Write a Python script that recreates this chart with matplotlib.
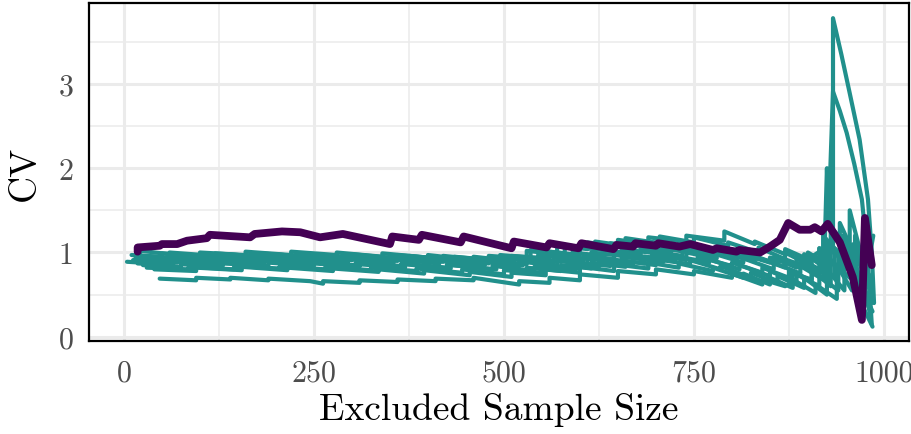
import matplotlib
matplotlib.use("Agg")
import matplotlib.pyplot as plt
from matplotlib.ticker import FixedLocator

plt.rcParams['font.family'] = ['cmr10', 'DejaVu Serif']
plt.rcParams['axes.formatter.use_mathtext'] = True
plt.rcParams['mathtext.fontset'] = 'cm'

# ---------------- data ----------------
x_ticks = [0, 250, 500, 750, 1000]
x_tick_labels = ["0", "250", "500", "750", "1000"]
y_ticks = [0, 1, 2, 3]
y_tick_labels = ["0", "1", "2", "3"]

purple_x = [18, 18, 47, 50, 70, 83, 109, 113, 166, 172, 208, 232, 258, 288, 350, 353,
            388, 392, 443, 447, 510, 513, 556, 560, 598, 602, 644, 648, 670, 673, 700,
            703, 731, 745, 775, 780, 806, 810, 837, 850, 863, 874, 889, 903, 909, 918,
            926, 942, 959, 971, 975, 984]
purple_y = [1.01, 1.06, 1.08, 1.10, 1.10, 1.14, 1.17, 1.21, 1.18, 1.22, 1.25, 1.24, 1.18,
            1.22, 1.10, 1.19, 1.15, 1.21, 1.12, 1.19, 1.05, 1.13, 1.06, 1.11, 1.05, 1.11,
            1.04, 1.09, 1.07, 1.11, 1.08, 1.11, 1.07, 1.10, 1.03, 1.05, 1.01, 1.03, 1.00,
            1.07, 1.15, 1.35, 1.27, 1.27, 1.30, 1.25, 1.34, 1.12, 0.71, 0.20, 1.41, 0.85]

t1_x = [47, 95, 95, 140, 140, 190, 190, 245, 262, 262, 310, 310, 360, 360, 410, 410, 460,
        460, 520, 520, 560, 560, 600, 600, 650, 650, 700, 700, 750, 750, 800, 800, 840,
        840, 870, 880, 880, 905, 905, 930, 930, 955, 955, 975, 985]
t1_y = [0.69, 0.67, 0.70, 0.68, 0.70, 0.67, 0.69, 0.66, 0.63, 0.66, 0.64, 0.67, 0.65, 0.68,
        0.66, 0.69, 0.67, 0.70, 0.62, 0.66, 0.64, 0.70, 0.67, 0.74, 0.70, 0.78, 0.74, 0.80,
        0.74, 0.78, 0.70, 0.75, 0.62, 0.68, 0.60, 0.66, 0.75, 0.68, 0.80, 0.60, 0.90, 0.70,
        1.10, 0.50, 0.30]

t2_x = [4, 40, 40, 90, 90, 140, 140, 200, 200, 260, 260, 320, 320, 380, 380, 440, 440, 500,
        500, 545, 545, 590, 590, 630, 630, 680, 680, 720, 720, 770, 770, 810, 810, 850, 850,
        890, 890, 920, 920, 950, 950, 972, 984]
t2_y = [0.89, 0.87, 0.91, 0.88, 0.92, 0.89, 0.93, 0.89, 0.94, 0.90, 0.95, 0.91, 0.95, 0.90,
        0.94, 0.89, 0.93, 0.88, 0.93, 0.90, 0.97, 0.93, 1.00, 0.96, 1.03, 0.98, 1.05, 1.00,
        1.08, 1.00, 1.04, 0.95, 0.99, 0.88, 0.94, 0.82, 0.90, 0.76, 1.20, 0.90, 1.05, 0.60,
        0.40]

t3_x = [10, 50, 50, 100, 100, 160, 160, 220, 220, 280, 280, 340, 340, 400, 400, 460, 460,
        510, 510, 560, 560, 600, 600, 640, 640, 690, 690, 730, 730, 780, 780, 820, 820, 860,
        860, 895, 895, 915, 915, 933, 933, 944, 955, 968, 979, 984, 987]
t3_y = [0.97, 0.95, 0.99, 0.96, 1.00, 0.97, 1.01, 0.97, 1.01, 0.97, 1.00, 0.95, 0.99, 0.94,
        0.97, 0.91, 0.95, 0.90, 0.96, 0.93, 1.01, 0.97, 1.06, 1.02, 1.11, 1.06, 1.13, 1.07,
        1.12, 1.01, 1.05, 0.94, 0.99, 0.86, 0.95, 0.84, 0.98, 0.90, 1.05, 1.00, 3.78, 3.35,
        2.89, 2.34, 1.63, 1.00, 0.40]

t4_x = [15, 60, 60, 110, 110, 170, 170, 230, 230, 290, 290, 350, 350, 410, 410, 470, 470,
        530, 530, 575, 575, 615, 615, 655, 655, 700, 700, 745, 745, 790, 790, 830, 830, 870,
        870, 905, 905, 922, 925, 927, 933, 942, 951, 961, 971, 978, 984]
t4_y = [0.93, 0.91, 0.95, 0.92, 0.96, 0.93, 0.97, 0.93, 0.96, 0.92, 0.96, 0.92, 0.95, 0.90,
        0.93, 0.88, 0.92, 0.86, 0.92, 0.89, 0.96, 0.92, 1.00, 0.96, 1.04, 0.99, 1.06, 1.00,
        1.06, 0.96, 1.00, 0.90, 0.95, 0.82, 0.90, 0.80, 0.95, 1.05, 2.00, 1.35, 2.91, 2.68,
        2.42, 2.05, 1.63, 1.00, 0.15]

t5_x = [20, 22, 60, 60, 120, 120, 180, 180, 240, 240, 300, 300, 360, 360, 420, 420, 480,
        480, 530, 530, 570, 570, 610, 610, 650, 650, 690, 690, 740, 740, 790, 790, 830, 830,
        870, 870, 900, 900, 930, 930, 955, 955, 975, 985]
t5_y = [0.95, 1.02, 0.98, 1.00, 0.96, 0.99, 0.95, 0.99, 0.95, 0.98, 0.94, 0.98, 0.93, 0.97,
        0.92, 0.96, 0.91, 0.96, 0.93, 1.02, 0.98, 1.08, 1.04, 1.12, 1.07, 1.15, 1.10, 1.18,
        1.13, 1.20, 1.14, 1.25, 1.10, 1.13, 0.98, 1.04, 0.92, 1.00, 0.84, 1.30, 1.05, 1.50,
        0.80, 0.60]

t6_x = [25, 75, 75, 130, 130, 190, 190, 250, 250, 310, 310, 370, 370, 430, 430, 490, 490,
        540, 540, 585, 585, 625, 625, 670, 670, 710, 710, 755, 755, 800, 800, 840, 840, 875,
        875, 905, 905, 935, 935, 960, 960, 983]
t6_y = [0.85, 0.83, 0.86, 0.84, 0.87, 0.84, 0.88, 0.84, 0.87, 0.83, 0.86, 0.82, 0.86, 0.81,
        0.85, 0.80, 0.84, 0.78, 0.83, 0.80, 0.87, 0.83, 0.90, 0.86, 0.94, 0.89, 0.97, 0.90,
        0.95, 0.84, 0.88, 0.76, 0.82, 0.70, 0.80, 0.66, 0.85, 0.70, 1.05, 0.82, 1.10, 0.55]

t7_x = [30, 85, 85, 145, 145, 205, 205, 265, 265, 325, 325, 385, 385, 445, 445, 500, 500,
        550, 550, 595, 595, 640, 640, 685, 685, 725, 725, 770, 770, 810, 810, 850, 850, 885,
        885, 915, 915, 940, 940, 962, 962, 982]
t7_y = [0.82, 0.80, 0.83, 0.80, 0.84, 0.81, 0.84, 0.80, 0.83, 0.79, 0.82, 0.78, 0.81, 0.76,
        0.80, 0.74, 0.79, 0.76, 0.84, 0.80, 0.88, 0.84, 0.92, 0.87, 0.95, 0.90, 0.96, 0.88,
        0.92, 0.80, 0.85, 0.72, 0.78, 0.65, 0.74, 0.60, 0.72, 0.55, 0.95, 0.70, 1.20, 0.25]

t8_x = [12, 55, 55, 115, 115, 175, 175, 235, 235, 295, 295, 355, 355, 415, 415, 475, 475,
        520, 520, 565, 565, 605, 605, 645, 645, 695, 695, 735, 735, 775, 775, 815, 815, 855,
        855, 890, 890, 920, 920, 945, 945, 965, 965, 985]
t8_y = [0.91, 0.89, 0.93, 0.90, 0.94, 0.90, 0.93, 0.89, 0.93, 0.89, 0.92, 0.88, 0.92, 0.87,
        0.90, 0.85, 0.89, 0.84, 0.90, 0.86, 0.94, 0.90, 0.97, 0.92, 0.99, 0.94, 1.01, 0.96,
        1.03, 0.95, 0.99, 0.88, 0.93, 0.80, 0.88, 0.75, 0.84, 0.68, 1.00, 0.78, 1.20, 0.85,
        1.00, 0.45]

t9_x = [35, 80, 80, 135, 135, 195, 195, 255, 255, 315, 315, 375, 375, 435, 435, 495, 495,
        535, 535, 580, 580, 620, 620, 660, 660, 705, 705, 750, 750, 795, 795, 835, 835, 870,
        870, 900, 900, 925, 925, 950, 950, 972, 986]
t9_y = [0.95, 0.93, 0.97, 0.94, 0.98, 0.94, 0.98, 0.94, 0.97, 0.93, 0.96, 0.92, 0.96, 0.91,
        0.95, 0.90, 0.97, 0.94, 1.03, 0.99, 1.09, 1.04, 1.13, 1.08, 1.17, 1.11, 1.19, 1.12,
        1.18, 1.08, 1.12, 1.00, 1.06, 0.92, 1.00, 0.86, 0.96, 0.80, 1.10, 0.85, 1.00, 0.50,
        1.20]

t10_x = [18, 65, 65, 125, 125, 185, 185, 245, 245, 305, 305, 365, 365, 425, 425, 485, 485,
         530, 530, 575, 575, 615, 615, 660, 660, 700, 700, 745, 745, 785, 785, 825, 825, 860,
         860, 895, 895, 925, 925, 948, 948, 970, 985]
t10_y = [0.87, 0.85, 0.89, 0.86, 0.90, 0.86, 0.90, 0.86, 0.89, 0.85, 0.88, 0.84, 0.87, 0.82,
         0.86, 0.80, 0.85, 0.78, 0.82, 0.78, 0.85, 0.81, 0.88, 0.83, 0.90, 0.85, 0.92, 0.86,
         0.91, 0.80, 0.84, 0.70, 0.76, 0.64, 0.72, 0.58, 0.70, 0.50, 0.80, 0.55, 0.95, 0.40,
         0.12]

t11_x = [40, 95, 95, 155, 155, 215, 215, 275, 275, 335, 335, 395, 395, 455, 455, 510, 510,
         555, 555, 600, 600, 645, 645, 690, 690, 730, 730, 775, 775, 815, 815, 850, 850, 880,
         880, 910, 910, 938, 938, 958, 958, 980]
t11_y = [0.80, 0.78, 0.82, 0.79, 0.83, 0.79, 0.82, 0.78, 0.81, 0.77, 0.80, 0.75, 0.79, 0.73,
         0.77, 0.71, 0.76, 0.73, 0.80, 0.76, 0.83, 0.78, 0.86, 0.81, 0.88, 0.82, 0.87, 0.78,
         0.82, 0.70, 0.75, 0.62, 0.70, 0.58, 0.68, 0.52, 0.62, 0.45, 0.85, 0.55, 0.90, 0.35]

t12_x = [22, 70, 70, 120, 120, 180, 180, 240, 240, 300, 300, 360, 360, 420, 420, 480, 480,
         525, 525, 570, 570, 610, 610, 655, 655, 700, 700, 740, 740, 780, 780, 820, 820, 855,
         855, 885, 885, 915, 915, 942, 942, 965, 984]
t12_y = [0.90, 0.88, 0.92, 0.89, 0.93, 0.89, 0.94, 0.90, 0.95, 0.91, 0.95, 0.90, 0.94, 0.89,
         0.93, 0.87, 0.91, 0.85, 0.89, 0.84, 0.90, 0.86, 0.93, 0.88, 0.95, 0.90, 0.97, 0.91,
         1.00, 0.93, 1.00, 0.92, 0.97, 0.88, 0.94, 0.82, 0.95, 0.75, 1.05, 0.80, 1.35, 0.90,
         0.70]

teal_series = [(t1_x, t1_y), (t2_x, t2_y), (t3_x, t3_y), (t4_x, t4_y), (t5_x, t5_y),
               (t6_x, t6_y), (t7_x, t7_y), (t8_x, t8_y), (t9_x, t9_y), (t10_x, t10_y),
               (t11_x, t11_y), (t12_x, t12_y)]

TEAL = "#21908C"
PURPLE = "#440154"

# ---------------- figure ----------------
W, H = 912, 435
fig = plt.figure(figsize=(W / 100, H / 100), dpi=100)
left, right, top, bottom = 89, 909, 4, 342
ax = fig.add_axes([left / W, 1 - bottom / H, (right - left) / W, (bottom - top) / H])

ax.set_xlim(-46, 1033)
ax.set_ylim(-0.05, 3.96)

ax.xaxis.set_major_locator(FixedLocator(x_ticks))
ax.yaxis.set_major_locator(FixedLocator(y_ticks))
ax.xaxis.set_minor_locator(FixedLocator([125, 375, 625, 875]))
ax.yaxis.set_minor_locator(FixedLocator([0.5, 1.5, 2.5, 3.5]))
ax.set_xticklabels(x_tick_labels)
ax.set_yticklabels(y_tick_labels)

ax.grid(which="major", color="#EBEBEB", linewidth=2.2, zorder=0)
ax.grid(which="minor", color="#EBEBEB", linewidth=1.1, zorder=0)
ax.set_axisbelow(True)

ax.tick_params(axis="both", which="both", length=0, labelsize=21.5, labelcolor="#4D4D4D")
ax.tick_params(axis="x", pad=13)
ax.tick_params(axis="y", pad=11)

for sp in ax.spines.values():
    sp.set_color("black")
    sp.set_linewidth(1.6)

for xs, ys in teal_series:
    ax.plot(xs, ys, color=TEAL, linewidth=3.0, solid_joinstyle="round",
            solid_capstyle="round", zorder=2)

ax.plot(purple_x, purple_y, color=PURPLE, linewidth=5.6, solid_joinstyle="round",
        solid_capstyle="round", zorder=3)

fig.text((left + right) / 2 / W, 1 - 410 / H, "Excluded Sample Size", ha="center",
         va="center", fontsize=27, color="black")
fig.text(25 / W, 1 - (top + bottom) / 2 / H, "CV", ha="center", va="center",
         rotation=90, fontsize=27, color="black")

fig.savefig("out.png", dpi=100)
